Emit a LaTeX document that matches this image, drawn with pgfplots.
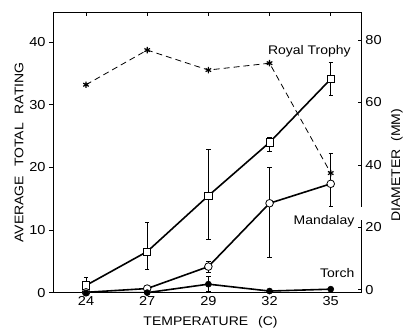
\documentclass[border=0pt]{standalone}
\usepackage{fontspec}
\setmainfont{Liberation Sans}[FakeStretch=1.12]
\usepackage{pgfplots}
\pgfplotsset{compat=1.18}
\begin{document}
\begin{tikzpicture}
\begin{axis}[
  name=ax1, scale only axis,
  width=309pt, height=281pt,
  xmin=-0.54, xmax=4.51, ymin=0, ymax=44.8,
  xtick={0,1,2,3,4}, xticklabels={24,27,29,32,35},
  ytick={0,10,20,30,40},
  xtick pos=both, ytick pos=left,
  xtick align=inside, ytick align=outside,
  major tick length=4pt,
  axis line style={line width=0.9pt},
  every tick/.style={line width=0.9pt, black},
  tick label style={font=\fontsize{13}{13}\selectfont},
  /pgf/number format/assume math mode=true,
  xlabel={TEMPERATURE\hspace{0.8em}(C)},
  ylabel={AVERAGE\hspace{0.4em} TOTAL\hspace{0.4em} RATING},
  label style={font=\fontsize{12.5}{12.5}\selectfont},
  xlabel style={at={(axis description cs:0.51,0)}, anchor=center, yshift=-29pt},
  ylabel style={at={(axis description cs:-0.110,0.5)}, anchor=center},
  error bars/error bar style={line width=0.6pt, black},
  error bars/error mark options={rotate=90, mark size=2.2pt, line width=0.6pt, black},
]
% Royal Trophy rating (open squares)
\addplot[black, line width=1.6pt, mark=square*, mark size=3.6pt,
  mark options={fill=white, line width=0.8pt},
  error bars/.cd, y dir=both, y explicit] coordinates {
  (0,1.2) += (0,1.3) -= (0,1.2)
  (1,6.6) += (0,4.6) -= (0,2.8)
  (2,15.5) += (0,7.4) -= (0,6.9)
  (3,24.0) += (0,0.8) -= (0,1.4)
  (4,34.1) += (0,2.7) -= (0,2.6)
};
% Mandalay (open circles)
\addplot[black, line width=1.6pt, mark=*, mark size=3.8pt,
  mark options={fill=white, line width=0.8pt},
  error bars/.cd, y dir=both, y explicit] coordinates {
  (0,0.1) += (0,0) -= (0,0)
  (1,0.7) += (0,0) -= (0,0)
  (2,4.2) += (0,0.9) -= (0,0.9)
  (3,14.3) += (0,5.7) -= (0,8.6)
  (4,17.4) += (0,4.8) -= (0,3.6)
};
% Torch (filled circles)
\addplot[black, line width=1.6pt, mark=*, mark size=3.0pt,
  mark options={fill=black, line width=0.6pt},
  error bars/.cd, y dir=both, y explicit] coordinates {
  (0,0.0) += (0,0) -= (0,0)
  (1,0.05) += (0,0) -= (0,0)
  (2,1.4) += (0,1.2) -= (0,1.2)
  (3,0.3) += (0,0) -= (0,0)
  (4,0.6) += (0,0) -= (0,0)
};
\end{axis}
\begin{axis}[
  scale only axis,
  width=309pt, height=281pt,
  xmin=-0.54, xmax=4.51, ymin=-1, ymax=89,
  axis x line=none, axis y line*=right,
  ytick={0,20,40,60,80},
  ytick align=inside,
  major tick length=4pt,
  axis line style={line width=0.9pt, -},
  every tick/.style={line width=0.9pt, black},
  tick label style={font=\fontsize{13}{13}\selectfont},
  /pgf/number format/assume math mode=true,
  ylabel={DIAMETER\hspace{0.6em}(MM)},
  label style={font=\fontsize{12.5}{12.5}\selectfont},
  ylabel style={at={(axis description cs:1.113,0.455)}, anchor=center},
  clip=false,
]
% Royal Trophy diameter (stars, dashed)
\addplot[black, line width=0.8pt, dash pattern=on 6pt off 4pt,
  mark=asterisk, mark size=3.2pt, mark options={solid, line width=1.2pt}] coordinates {
  (0,65.7) (1,76.8) (2,70.4) (3,72.6) (4,37.4)
};
\fill[white] (axis cs:4.44,22.4) rectangle (axis cs:4.6,26.6);
\node[anchor=base east, inner sep=0pt, font=\fontsize{12.5}{12.5}\selectfont] at (axis cs:4.33,75.5) {Royal Trophy};
\node[anchor=base east, inner sep=0pt, font=\fontsize{12.5}{12.5}\selectfont] at (axis cs:4.39,20.8) {Mandalay};
\node[anchor=base east, inner sep=0pt, font=\fontsize{12.5}{12.5}\selectfont] at (axis cs:4.39,3.8) {Torch};
\end{axis}
\path ([shift={(-53pt,-40pt)}]ax1.south west) rectangle ([shift={(44pt,12pt)}]ax1.north east);
\end{tikzpicture}
\end{document}
